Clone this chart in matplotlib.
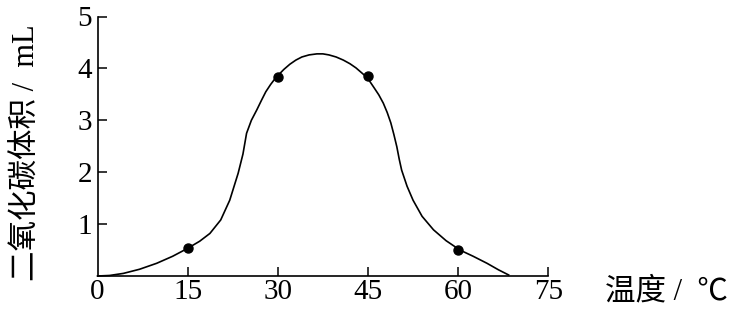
import matplotlib
matplotlib.use("Agg")
from matplotlib import pyplot as plt

# temperature (degC) vs CO2 volume (mL)
curve_t = [0, 2.0, 4.3, 7.0, 9.85, 12.5, 14.95, 17.0, 18.7, 20.5, 22.0, 23.4, 24.2, 24.8,
           25.6, 26.5, 27.3, 28.0, 28.8, 29.65, 31.0, 32.0, 33.0, 34.0, 35.2, 36.5, 37.5,
           38.5, 39.7, 40.9, 42.0, 43.0, 44.6, 45.3, 46.0, 46.8, 47.55, 48.2, 48.8, 49.3,
           49.8, 50.2, 50.6, 51.5, 52.5, 54.0, 55.9, 58.0, 60.3, 62.5, 64.8, 66.7, 68.4]
curve_v = [0, 0.01, 0.05, 0.13, 0.245, 0.38, 0.53, 0.67, 0.82, 1.08, 1.46, 1.98, 2.35, 2.75,
           3.0, 3.2, 3.39, 3.55, 3.69, 3.82, 3.98, 4.08, 4.16, 4.22, 4.26, 4.28, 4.28,
           4.26, 4.22, 4.16, 4.09, 4.01, 3.85, 3.75, 3.63, 3.49, 3.33, 3.15, 2.95, 2.73,
           2.49, 2.25, 2.04, 1.73, 1.46, 1.15, 0.89, 0.68, 0.50, 0.38, 0.245, 0.12, 0.02]

point_t = [15, 30, 45, 60]
point_v = [0.53, 3.83, 3.86, 0.50]

x_ticks = [0, 15, 30, 45, 60, 75]
y_ticks = [1, 2, 3, 4, 5]

FONT = ["Liberation Serif", "Noto Sans CJK SC", "DejaVu Sans"]
plt.rcParams["font.family"] = FONT

fig = plt.figure(figsize=(7.36, 3.11), dpi=100)
ax = fig.add_axes([97.5 / 736, 35 / 311, (548.3 - 97.5) / 736, (276 - 16.5) / 311])

ax.plot(curve_t, curve_v, color="black", lw=1.2, clip_on=False)
ax.plot(point_t, point_v, "o", color="black", ms=6.5, clip_on=False)

ax.set_xlim(0, 75)
ax.set_ylim(0, 5)
for side in ("top", "right"):
    ax.spines[side].set_visible(False)
for side in ("left", "bottom"):
    ax.spines[side].set_linewidth(1.2)

ax.set_xticks(x_ticks)
ax.set_yticks(y_ticks)
ax.tick_params(direction="in", length=6.5, width=1.1, labelsize=21, pad=4)
ax.tick_params(axis="x", pad=2)
ax.xaxis.get_major_ticks()[0].tick1line.set_visible(False)

fig.text(27 / 736, 1 - 153 / 311, "二氧化碳体积 /  mL", rotation=90,
         ha="center", va="center", fontsize=22)
fig.text(666 / 736, 1 - 292 / 311, "温度 /  ℃", ha="center", va="center", fontsize=22)

fig.savefig("out.png", dpi=100)
